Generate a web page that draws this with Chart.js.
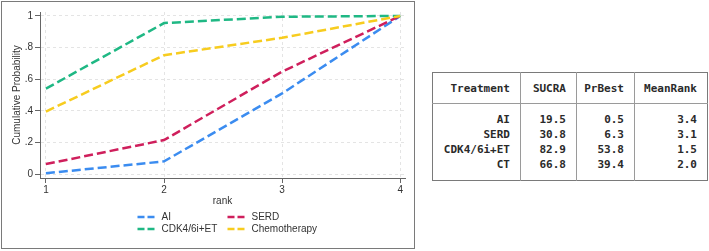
<!DOCTYPE html>
<html>
<head>
<meta charset="utf-8">
<script src="https://cdn.jsdelivr.net/npm/chart.js@4.4.1/dist/chart.umd.min.js"></script>
<style>
	body { margin: 0; background: #fff; width: 709px; height: 251px; position: relative; overflow: hidden; font-family: "Liberation Sans", Arial, sans-serif; }
	#panel { position: absolute; left: 1px; top: 1px; width: 412px; height: 246px; border: 1px solid #7a7a7a; }
	#mycanvas { position: absolute; left: 0; top: 0; }
	#tbl { position: absolute; left: 432px; top: 72px; border-collapse: collapse; border: 1px solid #7a7a7a;
		font-family: "DejaVu Sans Mono", "Liberation Mono", monospace; font-weight: bold; font-size: 11px; color: #2a2a2a; }
	#tbl th, #tbl td { text-align: right; padding: 0 10px 0 0; border-left: 1px solid #9a9a9a; line-height: 15px; }
	#tbl th:first-child, #tbl td:first-child { border-left: none; }
	#tbl th { height: 30px; font-weight: bold; border-bottom: 1px solid #9a9a9a; }
	#tbl tr.first td { padding-top: 8px; }
	#tbl tr.last td { padding-bottom: 8px; }
</style>
</head>
<body>
<div id="panel"></div>
<canvas id="mycanvas" width="418" height="251"></canvas>
<table id="tbl"></table>
<script>
	// cumulative ranking probabilities
	var ranks = [1, 2, 3, 4];
	var treatments = ["AI", "SERD", "CDK4/6i+ET", "Chemotherapy"];
	var aiCum = [0.005, 0.08, 0.51, 1];
	var serdCum = [0.063, 0.215, 0.648, 1];
	var cdkCum = [0.54, 0.955, 0.995, 1];
	var chemoCum = [0.395, 0.752, 0.862, 1];
	var yTicks = [0, 0.2, 0.4, 0.6, 0.8, 1];
	var xTicks = [1, 2, 3, 4];

	// table on the right
	var tblHeader = ["Treatment", "SUCRA", "PrBest", "MeanRank"];
	var tblNames = ["AI", "SERD", "CDK4/6i+ET", "CT"];
	var sucra = ["19.5", "30.8", "82.9", "66.8"];
	var prBest = ["0.5", "6.3", "53.8", "39.4"];
	var meanRank = ["3.4", "3.1", "1.5", "2.0"];

	var colWidths = [88, 56, 58, 73];
	var html = "<tr>";
	for (var c = 0; c < tblHeader.length; c++) {
		html += '<th style="width:' + (colWidths[c] - 11) + 'px">' + tblHeader[c] + "</th>";
	}
	html += "</tr>";
	for (var r = 0; r < tblNames.length; r++) {
		var cls = r == 0 ? "first" : (r == tblNames.length - 1 ? "last" : "");
		html += '<tr class="' + cls + '"><td>' + tblNames[r] + "</td><td>" + sucra[r] + "</td><td>" + prBest[r] + "</td><td>" + meanRank[r] + "</td></tr>";
	}
	document.getElementById("tbl").innerHTML = html;

	var colors = ["#3b8cf0", "#cf1f5c", "#1fb884", "#f7cc1f"];
	var series = [aiCum, serdCum, cdkCum, chemoCum];

	var datasets = [];
	for (var i = 0; i < series.length; i++) {
		var pts = [];
		for (var j = 0; j < ranks.length; j++) {
			pts.push({x: ranks[j], y: series[i][j]});
		}
		datasets.push({
			label: treatments[i],
			data: pts,
			borderColor: colors[i],
			backgroundColor: colors[i],
			borderWidth: 2.5,
			borderDash: [9, 4],
			pointRadius: 0,
			tension: 0,
			fill: false,
			order: series.length - i
		});
	}

	// two-column legend with dashed samples, like the stata one
	var dashLegend = {
		id: "dashLegend",
		afterDraw: function(chart) {
			var ctx = chart.ctx;
			var area = chart.chartArea;
			var cx = (area.left + area.right) / 2;
			var x0 = cx - 85, colW = 90, y0 = area.bottom + 39, rowH = 12;
			chart.data.datasets.forEach(function(ds, k) {
				var x = x0 + (k % 2) * colW;
				var y = y0 + Math.floor(k / 2) * rowH;
				ctx.save();
				ctx.strokeStyle = ds.borderColor;
				ctx.lineWidth = 2.5;
				ctx.setLineDash([7, 3]);
				ctx.beginPath();
				ctx.moveTo(x, y);
				ctx.lineTo(x + 18, y);
				ctx.stroke();
				ctx.setLineDash([]);
				ctx.fillStyle = "#333";
				ctx.font = '10px "Liberation Sans", Arial, sans-serif';
				ctx.textBaseline = "middle";
				ctx.fillText(ds.label, x + 24, y);
				ctx.restore();
			});
		}
	};

	var fontFam = '"Liberation Sans", Arial, sans-serif';

	var LineGraph = new Chart(document.getElementById("mycanvas"), {
		type: "line",
		data: {datasets: datasets},
		plugins: [dashLegend],
		options: {
			responsive: false,
			animation: false,
			devicePixelRatio: 1,
			layout: {padding: {left: 0, right: 13, top: 12, bottom: 43}},
			plugins: {legend: {display: false}, tooltip: {enabled: false}},
			scales: {
				x: {
					type: "linear",
					min: 0.95,
					max: 4.04,
					afterBuildTicks: function(s) { s.ticks = xTicks.map(function(v) { return {value: v}; }); },
					afterFit: function(s) { s.height = 30; },
					grid: {color: "#e4e4e4", lineWidth: 1, tickColor: "#666", tickLength: 5, tickBorderDash: []},
					border: {color: "#666", width: 1, dash: [3, 3]},
					ticks: {color: "#333", font: {size: 10, family: fontFam}, padding: 1, maxRotation: 0,
						callback: function(v) { return String(v); }},
					title: {display: true, text: "rank", color: "#333", font: {size: 10, family: fontFam}, padding: {top: 0, bottom: 1}}
				},
				y: {
					min: -0.025,
					max: 1.025,
					afterBuildTicks: function(s) { s.ticks = yTicks.map(function(v) { return {value: v}; }); },
					afterFit: function(s) { s.width = 40; },
					grid: {color: "#e4e4e4", lineWidth: 1, tickColor: "#666", tickLength: 5, tickBorderDash: []},
					border: {color: "#666", width: 1, dash: [3, 3]},
					ticks: {color: "#333", font: {size: 10, family: fontFam}, padding: 2,
						callback: function(v) {
							if (v == 0) return "0";
							if (v == 1) return "1";
							return v.toFixed(1).replace(/^0/, "");
						}},
					title: {display: true, text: "Cumulative Probability", color: "#333", font: {size: 10, family: fontFam}, padding: {top: 11, bottom: 0}}
				}
			}
		}
	});
</script>
</body>
</html>
